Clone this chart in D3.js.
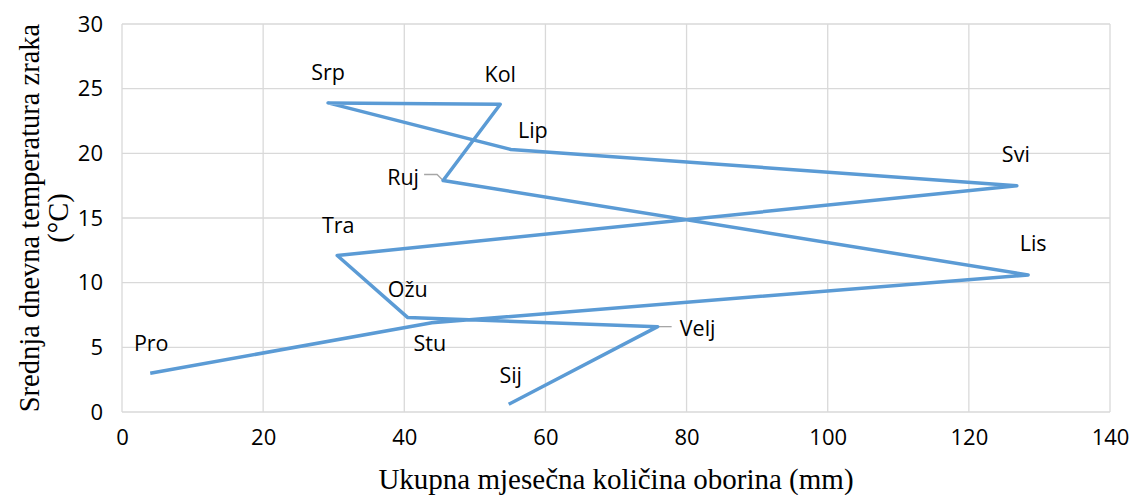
<!DOCTYPE html>
<html>
<head>
<meta charset="utf-8">
<script src="https://cdn.jsdelivr.net/npm/d3@7"></script>
<style>
    body { margin: 0; background: #fff; }
    svg { display: block; }
</style>
</head>
<body>
<script>
    // Data
    const months = ["Sij", "Velj", "Ožu", "Tra", "Svi", "Lip", "Srp", "Kol", "Ruj", "Lis", "Stu", "Pro"];
    const precipitation = [54.8, 75.9, 40.5, 30.5, 126.8, 55.1, 29.2, 53.6, 45.5, 128.4, 43.9, 4.0];
    const temperature = [0.6, 6.6, 7.3, 12.1, 17.5, 20.3, 23.9, 23.8, 17.9, 10.6, 6.9, 3.0];
    const xTicks = [0, 20, 40, 60, 80, 100, 120, 140];
    const yTicks = [0, 5, 10, 15, 20, 25, 30];

    // label placement (dx, dy from point)
    const labelOffsets = {
        "Sij": [2, -30], "Velj": [40, 1], "Ožu": [0, -29], "Tra": [1, -31],
        "Svi": [-1, -32], "Lip": [22, -20], "Srp": [0, -31], "Kol": [0, -31],
        "Ruj": [-40, -4], "Lis": [5, -32], "Stu": [-2, 20], "Pro": [1, -31]
    };
    const leaders = { "Velj": [2, 14], "Ruj": [-19, -2] };

    const width = 1130;
    const height = 495;
    const margin = { top: 24, right: 20, bottom: 83, left: 122 };

    const svg = d3.select("body").append("svg")
        .attr("width", width)
        .attr("height", height);

    const x = d3.scaleLinear().domain([0, 140]).range([margin.left, width - margin.right]);
    const y = d3.scaleLinear().domain([0, 30]).range([height - margin.bottom, margin.top]);

    // Gridlines
    svg.append("g")
        .selectAll("line")
        .data(yTicks)
        .join("line")
        .attr("x1", x(0)).attr("x2", x(140))
        .attr("y1", d => y(d)).attr("y2", d => y(d))
        .attr("stroke", "#d9d9d9").attr("stroke-width", 1.3);

    svg.append("g")
        .selectAll("line")
        .data(xTicks)
        .join("line")
        .attr("y1", y(0)).attr("y2", y(30))
        .attr("x1", d => x(d)).attr("x2", d => x(d))
        .attr("stroke", "#d9d9d9").attr("stroke-width", 1.3);

    // Axes (labels only)
    const yAxis = svg.append("g")
        .attr("transform", `translate(${margin.left},0)`)
        .call(d3.axisLeft(y).tickValues(yTicks).tickSize(0).tickPadding(19));
    const xAxis = svg.append("g")
        .attr("transform", `translate(0,${y(0)})`)
        .call(d3.axisBottom(x).tickValues(xTicks).tickSize(0).tickPadding(17));
    [xAxis, yAxis].forEach(a => {
        a.select(".domain").remove();
        a.selectAll("text")
            .attr("fill", "#000")
            .style("font-family", "'Open Sans', sans-serif")
            .style("font-size", "22px");
    });

    // Axis titles
    svg.append("text")
        .attr("x", (x(0) + x(140)) / 2)
        .attr("y", 489)
        .attr("text-anchor", "middle")
        .style("font-family", "'Liberation Serif', 'Times New Roman', serif")
        .style("font-size", "29px")
        .text("Ukupna mjesečna količina oborina (mm)");

    const yTitle = svg.append("text")
        .attr("transform", `translate(0,${(y(0) + y(30)) / 2}) rotate(-90)`)
        .attr("text-anchor", "middle")
        .style("font-family", "'Liberation Serif', 'Times New Roman', serif")
        .style("font-size", "28.5px");
    yTitle.append("tspan").attr("x", 0).attr("y", 39).text("Srednja dnevna temperatura zraka");
    yTitle.append("tspan").attr("x", 0).attr("y", 68).text("(°C)");

    const points = months.map((m, i) => ({ month: m, px: precipitation[i], t: temperature[i] }));

    // Leader lines
    svg.append("g")
        .selectAll("path")
        .data(points.filter(d => leaders[d.month]))
        .join("path")
        .attr("fill", "none")
        .attr("stroke", "#a6a6a6")
        .attr("stroke-width", 1.3)
        .attr("d", d => {
            const [lx] = leaders[d.month];
            const sx = x(d.px), sy = y(d.t);
            if (d.month === "Ruj") {
                return `M ${sx} ${sy} L ${sx - 6} ${sy - 6} L ${sx + lx} ${sy - 6}`;
            }
            return `M ${sx} ${sy} L ${sx + lx + 12} ${sy}`;
        });

    // Line
    const line = d3.line().x(d => x(d.px)).y(d => y(d.t));
    svg.append("path")
        .datum(points)
        .attr("fill", "none")
        .attr("stroke", "#5b9bd5")
        .attr("stroke-width", 3.5)
        .attr("stroke-linejoin", "round")
        .attr("d", line);

    // Data labels
    svg.append("g")
        .selectAll("text")
        .data(points)
        .join("text")
        .attr("x", d => x(d.px) + labelOffsets[d.month][0])
        .attr("y", d => y(d.t) + labelOffsets[d.month][1])
        .attr("text-anchor", "middle")
        .attr("dominant-baseline", "central")
        .style("font-family", "'Open Sans', sans-serif")
        .style("font-size", "21.5px")
        .text(d => d.month);
</script>
</body>
</html>
